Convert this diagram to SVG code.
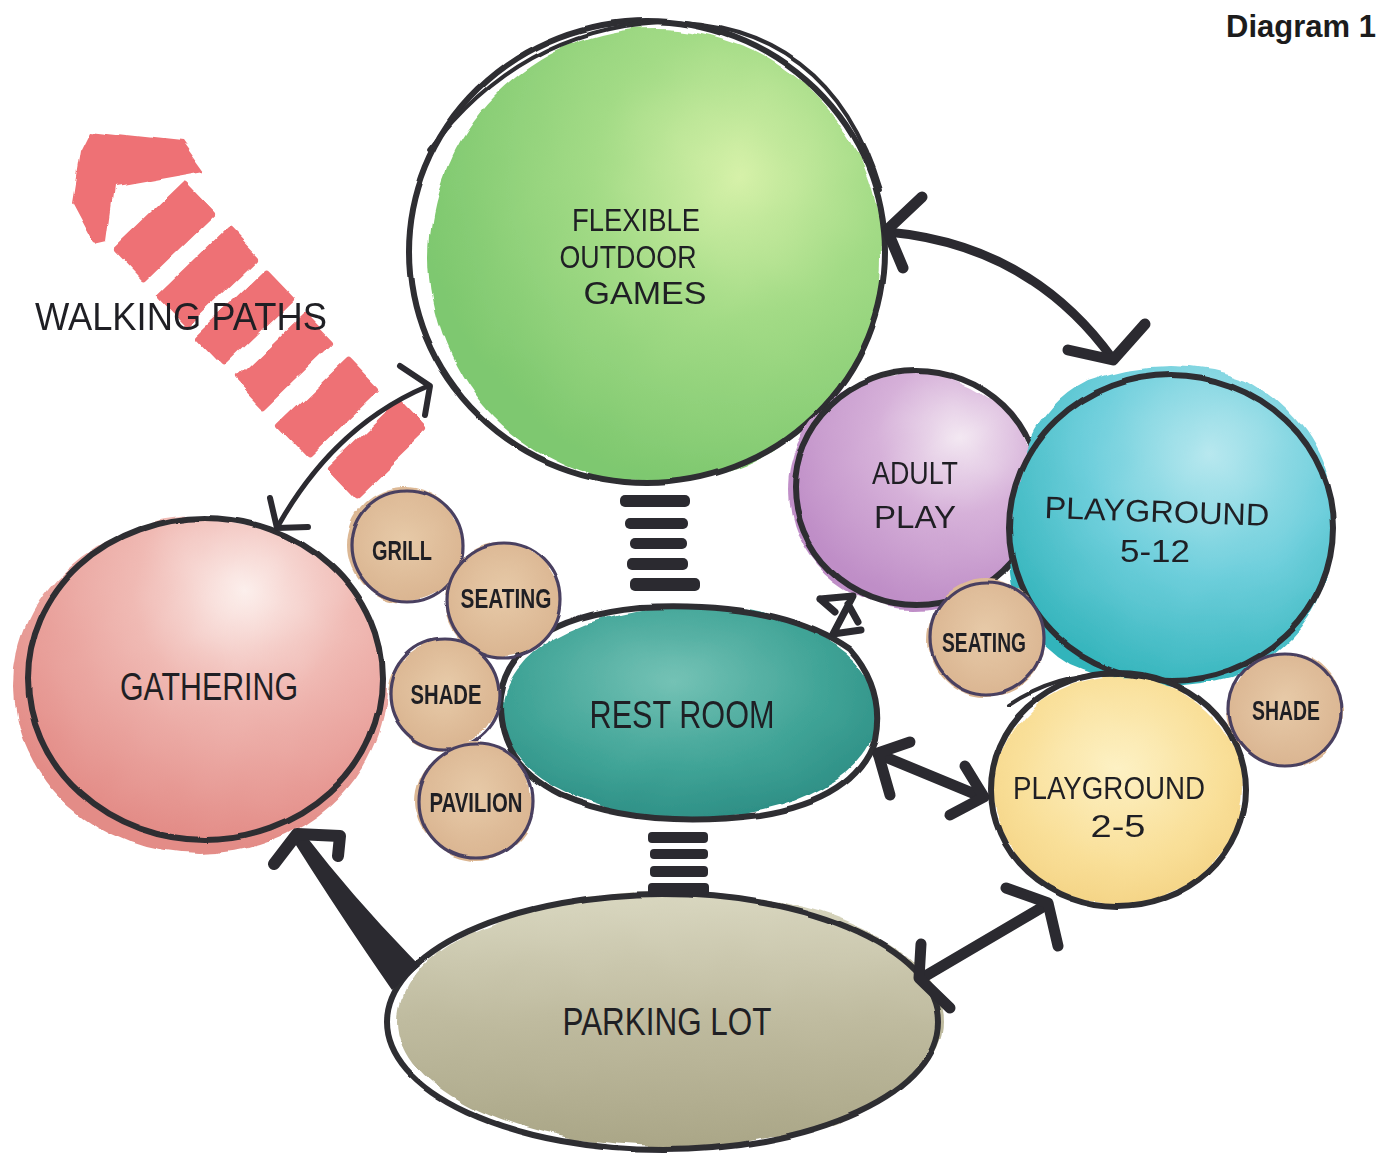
<svg xmlns="http://www.w3.org/2000/svg" width="1379" height="1155" viewBox="0 0 1379 1155">
<style>
.ol{fill:none;stroke:#2e2d33;stroke-width:6;stroke-linecap:round;filter:url(#ink)}
.ol2{fill:none;stroke:#2e2d33;stroke-width:4;stroke-linecap:round;filter:url(#ink)}
.tanf{fill:url(#gTan);filter:url(#wash)}
.tano{fill:none;stroke:#4a4060;stroke-width:3.2;filter:url(#ink)}
.lbl{font-family:"Liberation Sans Narrow","Liberation Sans",sans-serif;fill:#1f1f24;text-anchor:middle}
.big{font-size:38px}
.mid{font-size:31px}
.sm{font-size:28px;font-weight:bold}
.cn{fill:none;stroke:#2b2a30;stroke-linecap:round;stroke-linejoin:round}
.bar{fill:#2b2a30}
.red{fill:#ee7174;filter:url(#wash)}
</style>
<defs>
<filter id="wash" x="-15%" y="-15%" width="130%" height="130%">
<feTurbulence type="fractalNoise" baseFrequency="0.02" numOctaves="2" seed="4" result="n"/>
<feDisplacementMap in="SourceGraphic" in2="n" scale="14" xChannelSelector="R" yChannelSelector="G"/>
</filter>
<filter id="ink" x="-5%" y="-5%" width="110%" height="110%">
<feTurbulence type="fractalNoise" baseFrequency="0.015" numOctaves="1" seed="9" result="n"/>
<feDisplacementMap in="SourceGraphic" in2="n" scale="5" xChannelSelector="R" yChannelSelector="G"/>
</filter>
<radialGradient id="gGreen" cx="68%" cy="32%" r="70%">
<stop offset="0" stop-color="#d6f1a9"/><stop offset="0.45" stop-color="#a3db86"/><stop offset="1" stop-color="#7ec86f"/>
</radialGradient>
<radialGradient id="gPink" cx="62%" cy="22%" r="75%">
<stop offset="0" stop-color="#fcefec"/><stop offset="0.4" stop-color="#f0bab4"/><stop offset="1" stop-color="#e38c87"/>
</radialGradient>
<radialGradient id="gTeal" cx="45%" cy="35%" r="70%">
<stop offset="0" stop-color="#74c2b5"/><stop offset="0.6" stop-color="#3fa396"/><stop offset="1" stop-color="#2b8c83"/>
</radialGradient>
<radialGradient id="gPurple" cx="68%" cy="28%" r="72%">
<stop offset="0" stop-color="#f3e8f2"/><stop offset="0.45" stop-color="#d6b1d9"/><stop offset="1" stop-color="#bf8ec7"/>
</radialGradient>
<radialGradient id="gCyan" cx="62%" cy="28%" r="75%">
<stop offset="0" stop-color="#b8e8ef"/><stop offset="0.5" stop-color="#6fcfdc"/><stop offset="1" stop-color="#33b4bb"/>
</radialGradient>
<radialGradient id="gYellow" cx="50%" cy="40%" r="70%">
<stop offset="0" stop-color="#fdf1c4"/><stop offset="0.6" stop-color="#f9df98"/><stop offset="1" stop-color="#f2cf7e"/>
</radialGradient>
<linearGradient id="gOlive" x1="0" y1="0" x2="0" y2="1">
<stop offset="0" stop-color="#d9d7c0"/><stop offset="0.5" stop-color="#bfbb9f"/><stop offset="1" stop-color="#aaa687"/>
</linearGradient>
<radialGradient id="gTan" cx="50%" cy="45%" r="60%">
<stop offset="0" stop-color="#e7caa8"/><stop offset="1" stop-color="#d9b38f"/>
</radialGradient>
</defs>
<rect width="1379" height="1155" fill="#ffffff"/>

<text x="1376" y="37" style="font-family:'Liberation Sans',Arial,sans-serif;font-size:31px;font-weight:bold;fill:#1c1c1c;text-anchor:end">Diagram 1</text>

<g id="walking-paths">
<polygon class="red" points="90,130 182,140 205,172 115,188 108,240 95,243 72,200 80,150"/>
<g class="red">
<rect x="-50" y="-22" width="100" height="44" rx="3" transform="translate(165,232) rotate(-44)"/>
<rect x="-50" y="-22" width="100" height="44" rx="3" transform="translate(207,277) rotate(-44)"/>
<rect x="-50" y="-22" width="100" height="44" rx="3" transform="translate(245,318) rotate(-44)"/>
<rect x="-50" y="-22" width="100" height="44" rx="3" transform="translate(285,361) rotate(-44)"/>
<rect x="-50" y="-22" width="100" height="44" rx="3" transform="translate(329,407) rotate(-44)"/>
<rect x="-50" y="-22" width="100" height="44" rx="3" transform="translate(377,449) rotate(-44)"/>
</g>
<text class="lbl big" x="181" y="330" textLength="292" lengthAdjust="spacingAndGlyphs">WALKING PATHS</text>
</g>

<g id="flexible-outdoor-games">
<ellipse cx="656" cy="256" rx="226" ry="228" fill="url(#gGreen)" filter="url(#wash)"/>
<ellipse class="ol" cx="647" cy="252" rx="238" ry="231"/>
<path class="ol2" d="M 430 150 Q 520 30 660 22 Q 830 22 880 190"/>
<text class="lbl mid" x="636" y="231" textLength="128" lengthAdjust="spacingAndGlyphs">FLEXIBLE</text>
<text class="lbl mid" x="628" y="268" textLength="137" lengthAdjust="spacingAndGlyphs">OUTDOOR</text>
<text class="lbl mid" x="645" y="304" textLength="123" lengthAdjust="spacingAndGlyphs">GAMES</text>
</g>

<g id="gathering">
<ellipse cx="200" cy="686" rx="186" ry="168" fill="url(#gPink)" filter="url(#wash)"/>
<ellipse class="ol" cx="205" cy="679" rx="177" ry="161"/>
<text class="lbl big" x="209" y="700" textLength="178" lengthAdjust="spacingAndGlyphs">GATHERING</text>
</g>

<g id="adult-play">
<ellipse cx="914" cy="490" rx="125" ry="119" fill="url(#gPurple)" filter="url(#wash)"/>
<ellipse class="ol" cx="917" cy="488" rx="122" ry="117"/>
<text class="lbl mid" x="915" y="484" textLength="86" lengthAdjust="spacingAndGlyphs">ADULT</text>
<text class="lbl mid" x="915" y="528" textLength="82" lengthAdjust="spacingAndGlyphs">PLAY</text>
</g>

<g id="playground-5-12">
<path d="M 1010 560 Q 1010 420 1090 380 Q 1170 350 1250 380 Q 1335 430 1335 530 Q 1330 640 1230 678 Q 1150 700 1070 665 Q 1012 630 1010 560 Z" fill="url(#gCyan)" filter="url(#wash)"/>
<ellipse class="ol" cx="1171" cy="528" rx="162" ry="153"/>
<text class="lbl mid" x="1157" y="522" textLength="225" lengthAdjust="spacingAndGlyphs" transform="rotate(2 1157 510)">PLAYGROUND</text>
<text class="lbl mid" x="1155" y="562" textLength="70" lengthAdjust="spacingAndGlyphs">5-12</text>
</g>

<g id="rest-room">
<ellipse cx="690" cy="712" rx="188" ry="106" fill="url(#gTeal)" filter="url(#wash)"/>
<path class="ol" d="M 500 705 Q 505 620 640 607 Q 780 600 850 650 Q 885 690 875 740 Q 855 800 760 815 Q 640 830 560 795 Q 500 765 500 705 Z"/>
<text class="lbl big" x="682" y="728" textLength="185" lengthAdjust="spacingAndGlyphs">REST ROOM</text>
</g>

<g id="playground-2-5">
<ellipse cx="1118" cy="790" rx="124" ry="114" fill="url(#gYellow)" filter="url(#wash)"/>
<ellipse class="ol" cx="1118" cy="790" rx="127" ry="117"/>
<path class="ol2" d="M 1010 705 Q 1060 672 1120 675"/>
<text class="lbl mid" x="1109" y="799" textLength="192" lengthAdjust="spacingAndGlyphs">PLAYGROUND</text>
<text class="lbl mid" x="1118" y="837" textLength="55" lengthAdjust="spacingAndGlyphs">2-5</text>
</g>

<g id="parking-lot">
<ellipse cx="670" cy="1020" rx="272" ry="128" fill="url(#gOlive)" filter="url(#wash)"/>
<ellipse class="ol" cx="663" cy="1022" rx="276" ry="128"/>
<text class="lbl big" x="667" y="1035" textLength="209" lengthAdjust="spacingAndGlyphs">PARKING LOT</text>
</g>

<g id="grill">
<circle class="tanf" cx="405" cy="545" r="58"/>
<circle class="tano" cx="407" cy="546" r="56"/>
<text class="lbl sm" x="402" y="560" textLength="60" lengthAdjust="spacingAndGlyphs">GRILL</text>
</g>
<g id="seating-left">
<circle class="tanf" cx="503" cy="600" r="58"/>
<circle class="tano" cx="504" cy="600" r="57"/>
<text class="lbl sm" x="506" y="608" textLength="91" lengthAdjust="spacingAndGlyphs">SEATING</text>
</g>
<g id="shade-left">
<circle class="tanf" cx="444" cy="694" r="56"/>
<circle class="tano" cx="445" cy="694" r="55"/>
<text class="lbl sm" x="446" y="704" textLength="71" lengthAdjust="spacingAndGlyphs">SHADE</text>
</g>
<g id="pavilion">
<circle class="tanf" cx="475" cy="801" r="58"/>
<circle class="tano" cx="476" cy="801" r="57"/>
<text class="lbl sm" x="476" y="812" textLength="93" lengthAdjust="spacingAndGlyphs">PAVILION</text>
</g>
<g id="seating-right">
<circle class="tanf" cx="987" cy="638" r="58"/>
<circle class="tano" cx="987" cy="638" r="56"/>
<text class="lbl sm" x="984" y="652" textLength="84" lengthAdjust="spacingAndGlyphs">SEATING</text>
</g>
<g id="shade-right">
<circle class="tanf" cx="1285" cy="710" r="57"/>
<circle class="tano" cx="1285" cy="710" r="56"/>
<text class="lbl sm" x="1286" y="720" textLength="68" lengthAdjust="spacingAndGlyphs">SHADE</text>
</g>

<g id="connectors">
<g class="bar">
<rect x="620" y="495" width="70" height="12" rx="5"/>
<rect x="625" y="518" width="63" height="11" rx="5"/>
<rect x="630" y="538" width="57" height="11" rx="5"/>
<rect x="627" y="558" width="61" height="12" rx="5"/>
<rect x="630" y="578" width="70" height="13" rx="5"/>
<rect x="648" y="832" width="60" height="11" rx="4"/>
<rect x="650" y="849" width="58" height="10" rx="4"/>
<rect x="650" y="866" width="58" height="11" rx="4"/>
<rect x="648" y="883" width="61" height="14" rx="4"/>
</g>
<path class="cn" stroke-width="9" d="M 888 232 Q 1030 245 1112 358"/>
<path class="cn" stroke-width="11" d="M 922 197 L 887 230 L 903 268"/>
<path class="cn" stroke-width="11" d="M 1145 324 L 1113 360 L 1068 350"/>

<path class="cn" stroke-width="5" d="M 428 386 Q 335 425 278 526"/>
<path class="cn" stroke-width="6" d="M 400 366 L 430 386 L 425 415"/>
<path class="cn" stroke-width="6" d="M 270 498 L 277 528 L 308 527"/>

<path class="cn" stroke-width="7" d="M 820 599 L 853 596 L 833 634 L 861 630 M 820 599 L 835 612 M 858 622 L 848 604"/>

<path class="cn" stroke-width="11" d="M 878 754 L 982 797"/>
<path class="cn" stroke-width="11" d="M 910 742 L 878 753 L 890 795"/>
<path class="cn" stroke-width="11" d="M 965 766 L 984 797 L 950 815"/>

<path fill="#2b2a30" d="M 294 842 Q 338 912 392 990 L 420 966 Q 355 900 306 836 Z"/>
<path class="cn" stroke-width="12" d="M 274 864 L 297 834 L 340 836 L 338 856"/>

<path class="cn" stroke-width="11" d="M 922 978 L 1046 905"/>
<path class="cn" stroke-width="11" d="M 921 944 L 919 978 L 950 1008"/>
<path class="cn" stroke-width="11" d="M 1006 888 L 1048 903 L 1058 946"/>
</g>
</svg>
